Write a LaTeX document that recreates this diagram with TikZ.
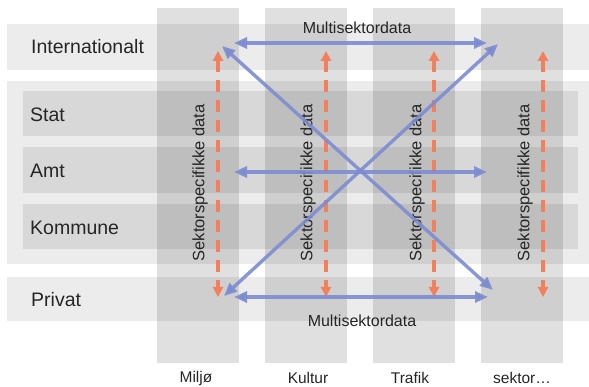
\documentclass[tikz,border=0pt]{standalone}
\usepackage{fontspec}
\setmainfont{Liberation Sans}
\usetikzlibrary{arrows.meta}
\definecolor{bluearr}{RGB}{125,140,208}
\definecolor{orangearr}{RGB}{242,128,92}
\begin{document}
\begin{tikzpicture}[x=1pt,y=-1pt,
  band/.style={fill=black,fill opacity=0.075,draw=none},
  strip/.style={fill=black,fill opacity=0.085,draw=none},
  colstrip/.style={fill=black,fill opacity=0.12,draw=none},
  rowlab/.style={anchor=west,font=\fontsize{19.5}{20}\selectfont,text=black!85,inner sep=0pt},
  collab/.style={font=\fontsize{15.5}{16}\selectfont,text=black!85,inner sep=0pt},
  vlab/.style={rotate=90,font=\fontsize{16.5}{17}\selectfont,text=black!85,inner sep=0pt},
  mlab/.style={font=\fontsize{16}{17}\selectfont,text=black!85,inner sep=0pt},
  multi/.style={draw=bluearr,line width=3.4pt,draw opacity=0.9,{Triangle[length=13pt,width=11pt,fill=bluearr]}-{Triangle[length=13pt,width=11pt,fill=bluearr]}},
  sector/.style={draw=orangearr,line width=3.4pt,dash pattern=on 12pt off 8pt,{Triangle[length=10pt,width=10pt,fill=orangearr]}-{Triangle[length=10pt,width=10pt,fill=orangearr]}}
]
\useasboundingbox (0,0) rectangle (589,387);
% row bands
\fill[band] (7,24) rectangle (589,70);
\fill[band] (7,81) rectangle (589,264);
\fill[strip] (23,91) rectangle (578,136);
\fill[strip] (23,147) rectangle (578,193);
\fill[strip] (23,204) rectangle (578,249);
\fill[band] (7,277) rectangle (589,321);
% columns
\foreach \x in {157,265,373,481}{
  \fill[colstrip] (\x,8) rectangle ({\x+82},363);
}
% row labels
\node[rowlab] (intl) at (31,47) {Internationalt};
\node[rowlab] (stat) at (30,115) {Stat};
\node[rowlab] (amt) at (30,171) {Amt};
\node[rowlab] (kom) at (30,228) {Kommune};
\node[rowlab] (priv) at (31,300) {Privat};
% column labels
\node[collab] (miljo) at (196,378) {Miljø};
\node[collab] (kultur) at (308,378) {Kultur};
\node[collab] (trafik) at (410,378) {Trafik};
\node[collab] (sektor) at (522,378) {sektor…};
% vertical labels
\foreach \x/\n in {200/v1,308/v2,417/v3,525/v4}{
  \node[vlab] (\n) at (\x,183) {Sektorspecifikke data};
}
% orange sector arrows
\foreach \x/\n in {218/a,326/b,434/c,543/d}{
  \coordinate (\n top) at (\x,51);
  \coordinate (\n bot) at (\x,297);
  \draw[sector] (\n top) -- (\n bot);
}
% blue multi-sector arrows
\coordinate (tl) at (234,43);
\coordinate (tr) at (487,43);
\coordinate (dtl) at (222,46);
\coordinate (dbr) at (493,290);
\coordinate (dbl) at (224,296);
\coordinate (dtr) at (498,44);
\coordinate (ml) at (234,172);
\coordinate (mr) at (487,172);
\coordinate (bl) at (234,297);
\coordinate (br) at (488,297);
\draw[multi] (tl) -- (tr);
\draw[multi] (dtl) -- (dbr);
\draw[multi] (dbl) -- (dtr);
\draw[multi] (ml) -- (mr);
\draw[multi] (bl) -- (br);
\node[mlab] (mtop) at (357,28) {Multisektordata};
\node[mlab] (mbot) at (362,321) {Multisektordata};
\end{tikzpicture}
\end{document}
